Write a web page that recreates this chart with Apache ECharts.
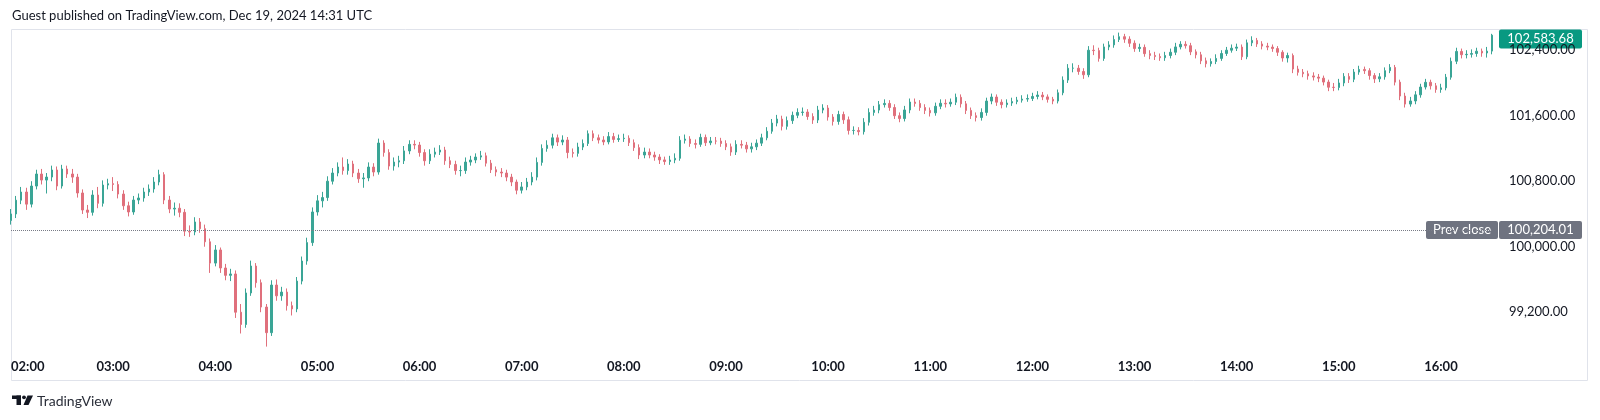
<!DOCTYPE html>
<html>
<head>
<meta charset="utf-8">
<script src="https://cdn.jsdelivr.net/npm/echarts/dist/echarts.min.js"></script>
<style>
html, body { margin: 0; padding: 0; background: #fff; }
#main { width: 1600px; height: 420px; }
</style>
</head>
<body>
<div id="main"></div>
<script>
// BTCUSD 3-minute candles, 02:00 - 16:30 (chart time)
var closes = [
    100400,100568,100668,100520,100741,100888,100814,100851,100937,100741,
    100949,100888,100850,100656,100448,100420,100631,100530,100753,100770,
    100760,100643,100500,100424,100570,100595,100668,100705,100790,100880,
    100570,100460,100470,100420,100190,100180,100302,100220,100060,99800,
    99960,99740,99650,99667,99200,99050,99435,99764,99560,99263,
    98950,99532,99400,99446,99280,99240,99580,99825,100050,100424,
    100560,100600,100800,100900,100973,100930,101010,100900,100830,100840,
    100973,100912,101266,101150,100985,101034,101050,101170,101250,101242,
    101150,101050,101130,101156,101181,101050,101005,100930,100930,101034,
    101059,101095,101110,101020,100940,100912,100900,100850,100790,100690,
    100730,100790,100850,101030,101200,101240,101330,101278,101303,101150,
    101140,101217,101260,101380,101330,101303,101280,101345,101310,101320,
    101325,101270,101210,101120,101156,101120,101095,101060,101040,101059,
    101080,101300,101315,101260,101250,101335,101270,101291,101290,101260,
    101220,101156,101250,101240,101195,101220,101265,101330,101410,101510,
    101559,101470,101540,101605,101640,101645,101590,101547,101669,101694,
    101584,101530,101615,101550,101420,101420,101405,101520,101640,101669,
    101735,101750,101700,101600,101565,101670,101767,101750,101700,101665,
    101635,101715,101752,101744,101765,101825,101745,101665,101600,101578,
    101640,101779,101828,101765,101735,101755,101772,101790,101803,101810,
    101835,101852,101830,101800,101779,101880,102035,102180,102180,102140,
    102100,102400,102395,102300,102440,102465,102530,102565,102535,102485,
    102420,102435,102358,102336,102322,102308,102335,102375,102440,102472,
    102455,102380,102344,102270,102235,102262,102300,102360,102400,102425,
    102438,102320,102490,102520,102476,102450,102438,102420,102375,102305,
    102335,102170,102130,102112,102086,102072,102059,102011,101948,101945,
    102000,102080,102045,102133,102165,102150,102090,102050,102075,102150,
    102190,102010,101840,101742,101780,101855,101950,102008,101965,101920,
    101940,102070,102265,102385,102345,102350,102360,102388,102366,102389,
    102583.68
];
var highs = [
    100460,100620,100730,100720,100800,100940,100950,100900,100990,100980,
    101000,100990,100950,100890,100700,100510,100690,100730,100810,100830,
    100850,100800,100690,100550,100620,100650,100720,100760,100850,100940,
    100910,100620,100540,100530,100460,100260,100360,100350,100270,100100,
    100020,99990,99790,99730,99710,99300,99490,99830,99800,99600,
    99300,99590,99600,99510,99490,99330,99630,99880,100110,100480,
    100630,100670,100860,100960,101030,101090,101070,101050,100950,100900,
    101030,101020,101320,101300,101190,101090,101110,101230,101300,101300,
    101280,101190,101190,101210,101240,101220,101100,101050,100990,101090,
    101110,101140,101170,101150,101060,100980,100960,100940,100890,100820,
    100790,100840,100910,101090,101250,101300,101380,101370,101360,101340,
    101200,101270,101310,101420,101420,101370,101350,101400,101390,101370,
    101380,101360,101310,101250,101210,101200,101160,101130,101100,101110,
    101140,101350,101370,101350,101310,101380,101370,101340,101340,101330,
    101300,101260,101300,101300,101280,101270,101310,101380,101460,101560,
    101610,101600,101590,101650,101690,101700,101680,101630,101720,101740,
    101730,101620,101660,101650,101590,101470,101460,101570,101690,101720,
    101780,101800,101790,101740,101640,101720,101810,101810,101790,101740,
    101700,101760,101800,101800,101810,101870,101860,101780,101700,101640,
    101690,101820,101870,101860,101800,101800,101820,101830,101850,101860,
    101880,101900,101890,101860,101830,101920,102080,102230,102240,102220,
    102180,102450,102460,102430,102480,102510,102580,102615,102600,102570,
    102520,102480,102470,102400,102380,102360,102380,102420,102490,102510,
    102510,102490,102410,102380,102310,102300,102350,102400,102440,102470,
    102480,102470,102530,102570,102550,102510,102490,102470,102450,102400,
    102370,102360,102210,102170,102150,102130,102110,102090,102040,102000,
    102050,102120,102120,102170,102210,102200,102180,102120,102120,102190,
    102230,102220,102040,101880,101830,101900,101990,102050,102040,102000,
    101990,102110,102310,102430,102420,102400,102410,102430,102420,102440,
    102600
];
var lows = [
    100270,100350,100520,100450,100480,100700,100760,100650,100800,100690,
    100710,100840,100780,100600,100400,100350,100380,100470,100490,100700,
    100680,100590,100450,100370,100390,100520,100550,100620,100660,100750,
    100520,100410,100380,100360,100130,100120,100140,100170,100000,99680,
    99760,99680,99590,99580,99130,98940,99010,99400,99500,99200,
    98780,98910,99340,99340,99220,99160,99200,99540,99780,100010,
    100380,100480,100560,100760,100860,100880,100880,100850,100780,100720,
    100800,100860,100880,101100,100940,100930,100970,101010,101130,101190,
    101100,100990,101010,101090,101120,101000,100960,100880,100860,100890,
    100990,101020,101060,100980,100900,100860,100850,100800,100740,100640,
    100650,100690,100750,100810,100990,101160,101200,101230,101240,101080,
    101090,101100,101180,101230,101290,101260,101240,101250,101270,101280,
    101280,101230,101170,101070,101080,101080,101050,101010,101000,101000,
    101020,101050,101260,101220,101200,101220,101230,101240,101250,101220,
    101180,101110,101120,101200,101150,101150,101180,101230,101300,101380,
    101470,101420,101430,101500,101570,101600,101550,101500,101510,101630,
    101540,101480,101490,101500,101370,101370,101360,101370,101480,101600,
    101630,101700,101660,101560,101520,101530,101630,101710,101660,101620,
    101590,101600,101680,101700,101710,101730,101700,101620,101560,101530,
    101540,101600,101740,101720,101690,101700,101720,101740,101760,101770,
    101780,101800,101790,101760,101740,101750,101850,102000,102130,102100,
    102050,102070,102340,102260,102270,102400,102430,102500,102490,102440,
    102380,102380,102320,102290,102280,102270,102270,102300,102340,102410,
    102420,102340,102300,102230,102190,102200,102230,102270,102330,102370,
    102390,102280,102290,102450,102440,102410,102400,102380,102330,102260,
    102250,102120,102090,102070,102040,102030,102010,101970,101900,101900,
    101910,101960,102000,102010,102100,102110,102040,102000,102010,102040,
    102120,101970,101790,101700,101710,101740,101820,101920,101920,101880,
    101880,101910,102040,102230,102300,102300,102310,102320,102320,102310,
    102350
];
var firstOpen = 100320;
var prevClose = 100204.01;
var priceTicks = [99200, 100000, 100800, 101600, 102400];
var hourLabels = ['02:00', '03:00', '04:00', '05:00', '06:00', '07:00', '08:00', '09:00',
    '10:00', '11:00', '12:00', '13:00', '14:00', '15:00', '16:00'];

onload = function () {
    var font = 'Lato, "Noto Sans", sans-serif';
    var upColor = '#3aa596';
    var downColor = '#e0707c';

    function pad(n) { return (n < 10 ? '0' : '') + n; }
    function fmt(v) {
        return v.toLocaleString('en-US', { minimumFractionDigits: 2, maximumFractionDigits: 2 });
    }

    // open of each candle is the close of the one before it
    var opens = [firstOpen].concat(closes.slice(0, closes.length - 1));
    var times = [];
    var candles = [];
    for (var i = 0; i < closes.length; i++) {
        var m = 120 + i * 3;
        times.push(pad(Math.floor(m / 60)) + ':' + pad(m % 60));
        candles.push([opens[i], closes[i], lows[i], highs[i]]);
    }

    var myChart = echarts.init(document.getElementById('main'));
    myChart.setOption({
        backgroundColor: '#fff',
        animation: false,
        textStyle: { fontFamily: font },
        grid: { left: 11, right: 108, top: 29, bottom: 68 },
        xAxis: {
            type: 'category',
            data: times,
            boundaryGap: false,
            axisLine: { show: false },
            axisTick: { show: false },
            splitLine: { show: false },
            axisLabel: {
                interval: function (idx, val) { return hourLabels.indexOf(val) >= 0; },
                alignMinLabel: 'left',
                color: '#131722',
                fontSize: 13,
                fontWeight: 'bold',
                margin: 8
            }
        },
        yAxis: {
            type: 'value',
            position: 'right',
            min: 98714,
            max: 102659,
            axisLine: { show: false },
            axisTick: { show: false },
            splitLine: { show: false },
            axisLabel: {
                customValues: priceTicks,
                formatter: fmt,
                color: '#131722',
                fontSize: 13,
                margin: 17
            }
        },
        series: [{
            type: 'candlestick',
            data: candles,
            barWidth: 2,
            itemStyle: {
                color: upColor,
                color0: downColor,
                borderColor: upColor,
                borderColor0: downColor,
                borderWidth: 1
            },
            markLine: {
                silent: true,
                symbol: 'none',
                label: { show: false },
                lineStyle: { type: 'dotted', color: '#787b86', width: 1 },
                data: [{ yAxis: prevClose }]
            }
        }]
    });

    var yPrev = myChart.convertToPixel({ yAxisIndex: 0 }, prevClose);
    var last = closes[closes.length - 1];
    var yLast = Math.max(myChart.convertToPixel({ yAxisIndex: 0 }, last), 39);

    myChart.setOption({
        graphic: [
            {
                type: 'text', left: 12, top: 9,
                style: { text: 'Guest published on TradingView.com, Dec 19, 2024 14:31 UTC',
                    fill: '#131722', font: '13px ' + font }
            },
            {
                type: 'rect', shape: { x: 11.5, y: 29.5, width: 1576, height: 351 },
                style: { fill: 'none', stroke: '#e0e3eb', lineWidth: 1 }, silent: true
            },
            // prev close tag
            {
                type: 'rect', shape: { x: 1426, y: yPrev - 9, width: 72, height: 18, r: 2 },
                style: { fill: '#6f7380' }
            },
            {
                type: 'text', x: 1462, y: yPrev,
                style: { text: 'Prev close', fill: '#fff', font: '13px ' + font,
                    textAlign: 'center', textVerticalAlign: 'middle' }
            },
            {
                type: 'rect', shape: { x: 1499, y: yPrev - 9, width: 83, height: 18, r: 2 },
                style: { fill: '#6f7380' }
            },
            {
                type: 'text', x: 1540.5, y: yPrev,
                style: { text: fmt(prevClose), fill: '#fff', font: '13px ' + font,
                    textAlign: 'center', textVerticalAlign: 'middle' }
            },
            // last price tag
            {
                type: 'rect', shape: { x: 1499, y: yLast - 9.5, width: 83, height: 19, r: 2 },
                style: { fill: '#089981' }
            },
            {
                type: 'text', x: 1540.5, y: yLast,
                style: { text: fmt(last), fill: '#fff', font: '13px ' + font,
                    textAlign: 'center', textVerticalAlign: 'middle' }
            },
            // footer logo
            { type: 'rect', shape: { x: 12, y: 395.5, width: 9, height: 3.5 }, style: { fill: '#131722' } },
            { type: 'rect', shape: { x: 16.5, y: 395.5, width: 4.5, height: 9.5 }, style: { fill: '#131722' } },
            { type: 'circle', shape: { cx: 24, cy: 397.3, r: 1.9 }, style: { fill: '#131722' } },
            {
                type: 'polygon',
                shape: { points: [[27.5, 395.5], [33, 395.5], [28.5, 405], [23.5, 405]] },
                style: { fill: '#131722' }
            },
            {
                type: 'text', x: 37, y: 401,
                style: { text: 'TradingView', fill: '#2a2e39', font: '14px ' + font,
                    textVerticalAlign: 'middle' }
            }
        ]
    });
};
</script>
</body>
</html>
